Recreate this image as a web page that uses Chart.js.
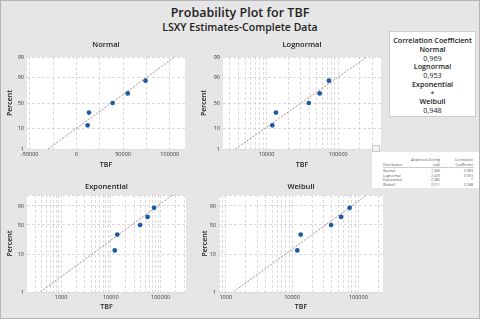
<!DOCTYPE html>
<html><head><meta charset="utf-8">
<script src="https://cdn.jsdelivr.net/npm/chart.js@4/dist/chart.umd.min.js"></script>
<style>
html,body{margin:0;padding:0;}
body{width:480px;height:319px;background:#e6e6e6;position:relative;overflow:hidden;font-family:"Open Sans",sans-serif;color:#222;}
#frame{position:absolute;left:0;top:0;width:478px;height:317px;border:1px solid #b4b4b4;pointer-events:none;}
canvas{position:absolute;}
.t1{position:absolute;left:0;width:480px;text-align:center;font-weight:600;white-space:nowrap;}
#corr{position:absolute;left:389px;top:31px;width:87px;height:86px;background:#fff;border:1px solid #cdcdcd;text-align:center;font-size:7.2px;line-height:8.75px;padding-top:4px;box-sizing:border-box;}
#corr .n{font-weight:600;}
#tblwrap{position:absolute;left:372px;top:152px;width:216px;height:72px;transform:scale(0.5);transform-origin:0 0;background:#fff;color:#555;font-size:7px;}
#tblwrap span{position:absolute;white-space:nowrap;line-height:8px;}
#mini{position:absolute;left:372px;top:145px;width:6px;height:5px;border:1px solid #c8c8c8;background:#f4f4f4;}
</style></head>
<body>
<div class="t1" style="top:5px;font-size:12.5px;line-height:16px;">Probability Plot for TBF</div>
<div class="t1" style="top:21px;font-size:10.5px;line-height:12px;">LSXY Estimates-Complete Data</div>
<canvas id="cNormal" width="195" height="135" style="left:0;top:36px"></canvas>
<canvas id="cLognormal" width="195" height="135" style="left:195px;top:36px"></canvas>
<canvas id="cExp" width="195" height="143" style="left:0;top:176px"></canvas>
<canvas id="cWeibull" width="195" height="143" style="left:195px;top:176px"></canvas>
<div id="corr"></div>
<div id="mini"></div>
<div id="tblwrap"></div>
<div id="frame"></div>
<script>
// ---- data ----
const tbf = [12000, 13500, 38800, 55000, 74000];
const percent = [12.96, 31.48, 50, 68.52, 87.04];
const yTickPct = [1, 10, 50, 90, 99];
const yLabelsNormal = ['1', '10', '50', '90', '99'];
const yLabelsWeibull = ['1', '10', '50', '90', ''];
const normalXTicks = [-50000, -25000, 0, 25000, 50000, 75000, 100000];
const normalXLabels = [-50000, 0, 50000, 100000];
const lognormalXLabels = [10000, 100000];
const exponentialXLabels = [1000, 10000, 100000];
const weibullXLabels = [1000, 10000, 100000];
const normalFit = {mu: 37400, sigma: 29150};
const lognormalFit = {mu10: 4.4805, sigma10: 0.394};
const exponentialFit = {theta: 38000};
const weibullFit = {alpha: 42100, beta: 1.3226};
const fitPct = [1, 99];
const corrNames = ['Normal', 'Lognormal', 'Exponential', 'Weibull'];
const corrValues = ['0,969', '0,953', '*', '0,948'];
const adValues = ['1,340', '2,420', '2,385', '2,011'];

// ---- helpers ----
function normInv(p){
 const a=[-3.969683028665376e+01,2.209460984245205e+02,-2.759285104469687e+02,1.383577518672690e+02,-3.066479806614716e+01,2.506628277459239e+00];
 const b=[-5.447609879822406e+01,1.615858368580409e+02,-1.556989798598866e+02,6.680131188771972e+01,-1.328068155288572e+01];
 const c=[-7.784894002430293e-03,-3.223964580411365e-01,-2.400758277161838e+00,-2.549732539343734e+00,4.374664141464968e+00,2.938163982698783e+00];
 const d=[7.784695709041462e-03,3.224671290700398e-01,2.445134137142996e+00,3.754408661907416e+00];
 const pl=0.02425, ph=1-pl; let q,r;
 if(p<pl){q=Math.sqrt(-2*Math.log(p));return (((((c[0]*q+c[1])*q+c[2])*q+c[3])*q+c[4])*q+c[5])/((((d[0]*q+d[1])*q+d[2])*q+d[3])*q+1);}
 if(p<=ph){q=p-0.5;r=q*q;return (((((a[0]*r+a[1])*r+a[2])*r+a[3])*r+a[4])*r+a[5])*q/(((((b[0]*r+b[1])*r+b[2])*r+b[3])*r+b[4])*r+1);}
 q=Math.sqrt(-2*Math.log(1-p));return -(((((c[0]*q+c[1])*q+c[2])*q+c[3])*q+c[4])*q+c[5])/((((d[0]*q+d[1])*q+d[2])*q+d[3])*q+1);
}
const tfNormal = p => normInv(p/100);
const tfWeibull = p => Math.log10(-Math.log(1 - p/100));

class ProbNormalScale extends Chart.LinearScale {
  parse(raw, index){ const v = super.parse(raw, index); return (v === null || v === undefined || !isFinite(v)) ? v : tfNormal(v); }
}
ProbNormalScale.id = 'probNormal';
class ProbWeibullScale extends Chart.LinearScale {
  parse(raw, index){ const v = super.parse(raw, index); return (v === null || v === undefined || !isFinite(v)) ? v : tfWeibull(v); }
}
ProbWeibullScale.id = 'probWeibull';
Chart.register(ProbNormalScale, ProbWeibullScale);

function logGrid(min, max){
  const out = [];
  for (let e = Math.floor(Math.log10(min)); e <= Math.ceil(Math.log10(max)); e++)
    for (let m = 1; m <= 9; m++){ const v = m * Math.pow(10, e); if (v >= min && v <= max) out.push(v); }
  return out;
}

Chart.defaults.font.family = '"Open Sans", sans-serif';
const BLUE = '#1b5ba5';
const FITC = '#a06a6a';
const GRID = '#d2d2d2';
const bgPlugin = {id:'plotBg', beforeDraw(chart){ const {ctx, chartArea:a} = chart; ctx.save(); ctx.fillStyle = '#fff'; ctx.fillRect(a.left, a.top, a.right-a.left, a.bottom-a.top); ctx.restore(); }};

function panel(id, o){
  new Chart(document.getElementById(id), {
    type: 'scatter',
    data: {datasets: [
      {data: tbf.map((t,i) => ({x: t, y: percent[i]})), backgroundColor: BLUE, borderColor: BLUE, borderWidth: 0, pointRadius: 2.35, order: 0},
      {data: fitPct.map(p => ({x: o.fitX(p/100), y: p})), showLine: true, borderColor: FITC, borderWidth: 0.8, borderDash: [2, 1.5], pointRadius: 0, order: 1}
    ]},
    options: {
      responsive: false, animation: false, events: [], devicePixelRatio: 1,
      layout: {padding: {left: 0, right: o.padRight, top: 0, bottom: 0}},
      plugins: {legend: {display: false}, tooltip: {enabled: false},
        title: {display: true, text: o.title, fullSize: false, color: '#222', font: {size: 7.5, weight: '600'}, padding: {top: o.tPadTop, bottom: o.tPadBot}}},
      scales: {
        x: {type: o.xType, position: 'bottom', min: o.xMin, max: o.xMax, bounds: 'data',
            afterBuildTicks: ax => { ax.ticks = o.xTicks.map(v => ({value: v})); },
            afterFit: s => { s.height = o.xH; },
            ticks: {autoSkip: false, maxRotation: 0, minRotation: 0, padding: 2, color: '#333', font: {size: 5.5},
                    callback: v => o.xLabels.includes(v) ? String(v) : ''},
            grid: {color: GRID, lineWidth: 0.8, drawTicks: false},
            border: {display: false, dash: [3, 2]},
            title: {display: true, text: 'TBF', color: '#222', font: {size: 7, weight: '600'}, padding: {top: 0, bottom: o.tbfPad}}},
        y: {type: o.yType, position: 'left', min: 1, max: 99, bounds: 'data',
            afterBuildTicks: ax => { ax.ticks = yTickPct.map(p => ({value: o.tf(p)})); },
            afterFit: s => { s.width = o.yW; },
            ticks: {autoSkip: false, padding: 3, color: '#333', font: {size: 5.5}, callback: (v, i) => o.yLabels[i]},
            grid: {color: GRID, lineWidth: 0.8, drawTicks: false},
            border: {display: false, dash: [3, 2]},
            title: {display: true, text: 'Percent', color: '#222', font: {size: 7, weight: '600'}, padding: {top: o.pctPad, bottom: 0}}}
      }
    },
    plugins: [bgPlugin]
  });
}

panel('cNormal', {title: 'Normal', xType: 'linear', xMin: -52900, xMax: 116300, xTicks: normalXTicks, xLabels: normalXLabels,
  fitX: q => normalFit.mu + normalFit.sigma * normInv(q),
  yType: 'probNormal', tf: tfNormal, yLabels: yLabelsNormal,
  padRight: 10, yW: 27, xH: 22, tPadTop: 4, tPadBot: 8, tbfPad: 2, pctPad: 6});

panel('cLognormal', {title: 'Lognormal', xType: 'logarithmic', xMin: 2460, xMax: 395000, xTicks: logGrid(2460, 395000), xLabels: lognormalXLabels,
  fitX: q => Math.pow(10, lognormalFit.mu10 + lognormalFit.sigma10 * normInv(q)),
  yType: 'probNormal', tf: tfNormal, yLabels: yLabelsNormal,
  padRight: 9, yW: 28, xH: 22, tPadTop: 4, tPadBot: 8, tbfPad: 2, pctPad: 4.8});

panel('cExp', {title: 'Exponential', xType: 'logarithmic', xMin: 206, xMax: 326000, xTicks: logGrid(206, 326000), xLabels: exponentialXLabels,
  fitX: q => -exponentialFit.theta * Math.log(1 - q),
  yType: 'probWeibull', tf: tfWeibull, yLabels: yLabelsWeibull,
  padRight: 9, yW: 27, xH: 27, tPadTop: 6, tPadBot: 4, tbfPad: 7.5, pctPad: 6});

panel('cWeibull', {title: 'Weibull', xType: 'logarithmic', xMin: 791, xMax: 235500, xTicks: logGrid(791, 235500), xLabels: weibullXLabels,
  fitX: q => weibullFit.alpha * Math.pow(-Math.log(1 - q), 1 / weibullFit.beta),
  yType: 'probWeibull', tf: tfWeibull, yLabels: yLabelsWeibull,
  padRight: 7, yW: 24, xH: 27, tPadTop: 6, tPadBot: 4, tbfPad: 7.5, pctPad: 5.8});

// ---- correlation box ----
const corr = document.getElementById('corr');
let html = '<div class="n">Correlation Coefficient</div>';
corrNames.forEach((n, i) => { html += '<div class="n">' + n + '</div><div>' + corrValues[i] + '</div>'; });
corr.innerHTML = html;

// ---- small table (drawn at 2x, scaled by 0.5) ----
const tw = document.getElementById('tblwrap');
function sp(text, x, y, align){
  const s = document.createElement('span'); s.textContent = text; s.style.top = (y - 4) + 'px';
  if (align === 'r') s.style.right = (216 - x) + 'px'; else s.style.left = x + 'px';
  tw.appendChild(s);
}
sp('Anderson-Darling', 136, 16, 'r'); sp('(adj)', 136, 26, 'r');
sp('Correlation', 202, 16, 'r'); sp('Coefficient', 202, 26, 'r');
sp('Distribution', 22, 26, 'l');
const ul = document.createElement('div'); ul.style.cssText = 'position:absolute;left:22px;top:31px;width:182px;height:0;border-top:1px solid #999;'; tw.appendChild(ul);
corrNames.forEach((n, i) => { const y = 38 + i * 9; sp(n, 22, y, 'l'); sp(adValues[i], 136, y, 'r'); sp(corrValues[i], 202, y, 'r'); });
</script>
</body></html>
